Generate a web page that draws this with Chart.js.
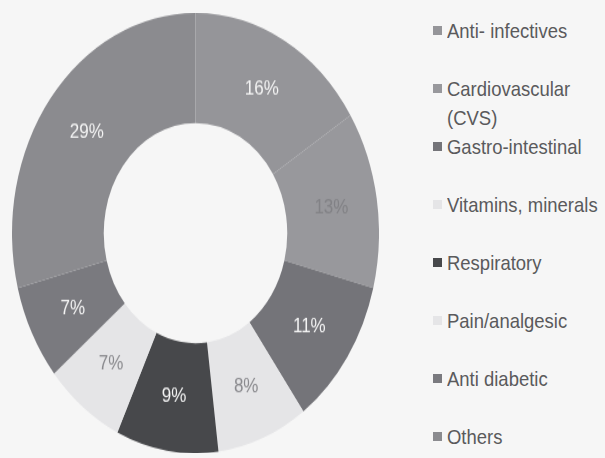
<!DOCTYPE html>
<html lang="en">
<head>
    <meta charset="UTF-8">
    <title>Therapeutic Category Share</title>
    <script src="https://cdn.jsdelivr.net/npm/chart.js@4.4.0/dist/chart.umd.min.js"></script>
    <style>
        * {
            margin: 0;
            padding: 0;
            box-sizing: border-box;
        }

        body {
            width: 605px;
            height: 458px;
            overflow: hidden;
            background-color: #f6f6f6;
            font-family: Arial, 'Liberation Sans', sans-serif;
            position: relative;
        }

        .chart-wrap {
            position: absolute;
            left: 12px;
            top: 13px;
            width: 367px;
            height: 367px;
            transform: scaleY(1.2);
            transform-origin: top left;
        }

        .legend {
            position: absolute;
            left: 433px;
            top: 16px;
            list-style: none;
        }

        .legend li {
            height: 58px;
            display: flex;
            align-items: flex-start;
        }

        .legend .box {
            width: 9px;
            height: 9px;
            margin-top: 10px;
            margin-right: 5px;
            flex: none;
        }

        .legend .text {
            width: 178px;
            font-size: 21px;
            line-height: 29px;
            color: #5a5a5c;
            transform: scaleX(0.88);
            transform-origin: top left;
        }
    </style>
</head>
<body>
    <div class="chart-wrap">
        <canvas id="shareChart"></canvas>
    </div>
    <ul class="legend" id="legend"></ul>

    <script>
        // Data
        const categories = ['Anti- infectives', 'Cardiovascular (CVS)', 'Gastro-intestinal', 'Vitamins, minerals',
            'Respiratory', 'Pain/analgesic', 'Anti diabetic', 'Others'];
        const shares = [16, 13, 11, 8, 9, 7, 7, 29];

        const sliceColors = ['#959599', '#98989c', '#747479', '#e5e5e7', '#47484b', '#e5e5e7', '#7a7a7f', '#8b8b8f'];
        const labelColors = ['#f4f4f4', '#828286', '#f4f4f4', '#8a8a8e', '#f4f4f4', '#8a8a8e', '#f4f4f4', '#f4f4f4'];

        // Percent labels drawn in the middle of each ring segment
        const sliceLabels = {
            id: 'sliceLabels',
            afterDatasetsDraw(chart) {
                const ctx = chart.ctx;
                const meta = chart.getDatasetMeta(0);
                ctx.save();
                ctx.font = '17px Arial, "Liberation Sans", sans-serif';
                ctx.textAlign = 'center';
                ctx.textBaseline = 'middle';
                meta.data.forEach((arc, i) => {
                    const pos = arc.tooltipPosition();
                    ctx.fillStyle = labelColors[i];
                    ctx.fillText(shares[i] + '%', pos.x, pos.y);
                });
                ctx.restore();
            }
        };

        new Chart(document.getElementById('shareChart'), {
            type: 'doughnut',
            data: {
                labels: categories,
                datasets: [{
                    data: shares,
                    backgroundColor: sliceColors,
                    borderWidth: 0
                }]
            },
            options: {
                responsive: true,
                maintainAspectRatio: false,
                animation: false,
                cutout: '50%',
                plugins: {
                    legend: { display: false },
                    tooltip: { enabled: false }
                }
            },
            plugins: [sliceLabels]
        });

        // Legend
        const legend = document.getElementById('legend');
        legend.innerHTML = categories.map((name, i) => `
            <li>
                <span class="box" style="background-color: ${sliceColors[i]}"></span>
                <span class="text">${name}</span>
            </li>
        `).join('');
    </script>
</body>
</html>
